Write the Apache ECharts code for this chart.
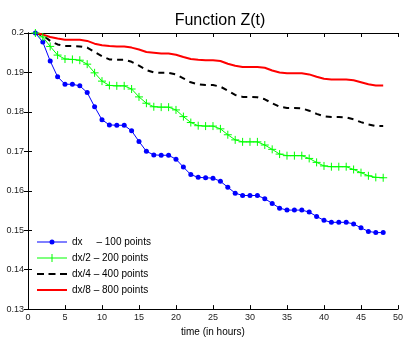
<!DOCTYPE html>
<html>
<head>
<meta charset="UTF-8">
<title>Function Z(t)</title>
<script src="https://cdn.jsdelivr.net/npm/echarts@6/dist/echarts.min.js"></script>
<style>
  body { margin: 0; padding: 0; background: #fff; }
  #main { width: 406px; height: 342px; }
</style>
</head>
<body>
<div id="main"></div>
<script>
// time in hours
var hours = [];
for (var i = 1; i <= 48; i++) hours.push(i);

var dx100 = [0.2000, 0.1977, 0.1929, 0.1889, 0.1870, 0.1870, 0.1866, 0.1849, 0.1813, 0.1780,
  0.1767, 0.1766, 0.1766, 0.1752, 0.1725, 0.1700, 0.1691, 0.1690, 0.1690, 0.1680,
  0.1660, 0.1641, 0.1634, 0.1633, 0.1632, 0.1624, 0.1609, 0.1594, 0.1588, 0.1588,
  0.1588, 0.1580, 0.1568, 0.1556, 0.1551, 0.1551, 0.1551, 0.1546, 0.1535, 0.1525,
  0.1520, 0.1520, 0.1520, 0.1516, 0.1506, 0.1497, 0.1494, 0.1494];

var dx200 = [0.2000, 0.1990, 0.1966, 0.1944, 0.1934, 0.1933, 0.1931, 0.1921, 0.1899, 0.1878,
  0.1867, 0.1866, 0.1866, 0.1858, 0.1838, 0.1822, 0.1813, 0.1812, 0.1812, 0.1805,
  0.1788, 0.1773, 0.1765, 0.1764, 0.1764, 0.1757, 0.1742, 0.1729, 0.1724, 0.1724,
  0.1724, 0.1716, 0.1705, 0.1693, 0.1689, 0.1689, 0.1689, 0.1682, 0.1672, 0.1663,
  0.1661, 0.1661, 0.1661, 0.1654, 0.1646, 0.1638, 0.1634, 0.1633];

var dx400 = [0.2000, 0.1994, 0.1980, 0.1971, 0.1967, 0.1967, 0.1966, 0.1963, 0.1952, 0.1941,
  0.1933, 0.1932, 0.1932, 0.1927, 0.1917, 0.1906, 0.1900, 0.1899, 0.1899, 0.1895,
  0.1885, 0.1875, 0.1870, 0.1868, 0.1868, 0.1864, 0.1854, 0.1843, 0.1838, 0.1838,
  0.1837, 0.1832, 0.1822, 0.1813, 0.1810, 0.1810, 0.1809, 0.1803, 0.1795, 0.1789,
  0.1787, 0.1787, 0.1786, 0.1781, 0.1774, 0.1768, 0.1764, 0.1764];

var dx800 = [0.2000, 0.1996, 0.1990, 0.1986, 0.1983, 0.1983, 0.1983, 0.1980, 0.1973, 0.1969,
  0.1967, 0.1966, 0.1966, 0.1963, 0.1958, 0.1952, 0.1950, 0.1948, 0.1948, 0.1945,
  0.1939, 0.1934, 0.1932, 0.1931, 0.1931, 0.1929, 0.1922, 0.1917, 0.1914, 0.1914,
  0.1914, 0.1912, 0.1905, 0.1900, 0.1898, 0.1898, 0.1898, 0.1895, 0.1889, 0.1884,
  0.1882, 0.1882, 0.1882, 0.1880, 0.1875, 0.1870, 0.1867, 0.1867];

var names = ['dx     \u2013 100 points', 'dx/2 \u2013 200 points', 'dx/4 \u2013 400 points', 'dx/8 \u2013 800 points'];

function pairs(arr) {
  return arr.map(function (v, i) { return [hours[i], v]; });
}

// legend samples drawn as 30x10 paths
var iconBlue = 'path://M0,4.5H30V5.5H0Z M12.5,5a2.5,2.5 0 1,1 5,0a2.5,2.5 0 1,1 -5,0Z';
var iconGreen = 'path://M0,4.5H30V5.5H0Z M14.5,1H15.5V9H14.5Z';
var iconDash = 'path://M0,4H7V6H0Z M11.5,4H18.5V6H11.5Z M23,4H30V6H23Z';
var iconRed = 'path://M0,4H30V6H0Z';

var chart = echarts.init(document.getElementById('main'));

var font = 'Arial, Liberation Sans, sans-serif';
var axisText = { color: '#222', fontSize: 9, fontFamily: font };

var option = {
  animation: false,
  backgroundColor: '#fff',
  title: {
    text: 'Function Z(t)',
    left: 215,
    top: 8,
    textAlign: 'center',
    textStyle: { fontSize: 16, fontWeight: 'normal', color: '#000', fontFamily: font }
  },
  legend: {
    orient: 'vertical',
    left: 32,
    top: 232,
    itemWidth: 30,
    itemHeight: 10,
    itemGap: 6,
    symbolKeepAspect: true,
    textStyle: { fontSize: 10, color: '#000', fontFamily: font },
    data: [
      { name: names[0], icon: iconBlue, itemStyle: { color: '#0000ff', borderWidth: 0 } },
      { name: names[1], icon: iconGreen, itemStyle: { color: '#00ff00', borderWidth: 0 } },
      { name: names[2], icon: iconDash, itemStyle: { color: '#000', borderWidth: 0 } },
      { name: names[3], icon: iconRed, itemStyle: { color: '#ff0000', borderWidth: 0 } }
    ]
  },
  grid: { left: 28, right: 4, top: 33, bottom: 32 },
  xAxis: [{
    type: 'value', min: 0, max: 50, interval: 5,
    name: 'time (in hours)', nameLocation: 'middle', nameGap: 15,
    nameTextStyle: { fontSize: 10, color: '#000', fontFamily: font },
    axisLine: { lineStyle: { color: '#000', width: 1 } },
    axisTick: { inside: true, length: 4, lineStyle: { color: '#000' } },
    axisLabel: Object.assign({ margin: 4 }, axisText),
    splitLine: { show: false }
  }, {
    type: 'value', min: 0, max: 50, interval: 5, position: 'top',
    axisLine: { lineStyle: { color: '#000', width: 1 } },
    axisTick: { inside: true, length: 4, lineStyle: { color: '#000' } },
    axisLabel: { show: false },
    splitLine: { show: false }
  }],
  yAxis: [{
    type: 'value', min: 0.13, max: 0.2, interval: 0.01,
    axisLine: { show: true, lineStyle: { color: '#000', width: 1 } },
    axisTick: { show: true, inside: true, length: 4, lineStyle: { color: '#000' } },
    axisLabel: Object.assign({ margin: 4, formatter: function (v) { return String(+v.toFixed(2)); } }, axisText),
    splitLine: { show: false }
  }, {
    type: 'value', min: 0.13, max: 0.2, interval: 0.01, position: 'right',
    axisLine: { show: true, lineStyle: { color: '#000', width: 1 } },
    axisTick: { show: true, inside: true, length: 4, lineStyle: { color: '#000' } },
    axisLabel: { show: false },
    splitLine: { show: false }
  }],
  series: [
    {
      name: names[0], type: 'line', data: pairs(dx100),
      symbol: 'circle', symbolSize: 5,
      itemStyle: { color: '#0000ff' },
      lineStyle: { color: '#0000ff', width: 1 }
    },
    {
      name: names[1], type: 'line', data: pairs(dx200),
      symbol: 'path://M0,5L10,5M5,0L5,10', symbolSize: 8,
      itemStyle: { color: 'rgba(0,0,0,0)', borderColor: '#00ff00', borderWidth: 1 },
      lineStyle: { color: '#00ff00', width: 1 }
    },
    {
      name: names[2], type: 'line', data: pairs(dx400),
      showSymbol: false, symbol: 'none',
      itemStyle: { color: '#000' },
      lineStyle: { color: '#000', width: 2, type: [6, 5] }
    },
    {
      name: names[3], type: 'line', data: pairs(dx800),
      showSymbol: false, symbol: 'none',
      itemStyle: { color: '#ff0000' },
      lineStyle: { color: '#ff0000', width: 2 }
    }
  ]
};

chart.setOption(option);
</script>
</body>
</html>
